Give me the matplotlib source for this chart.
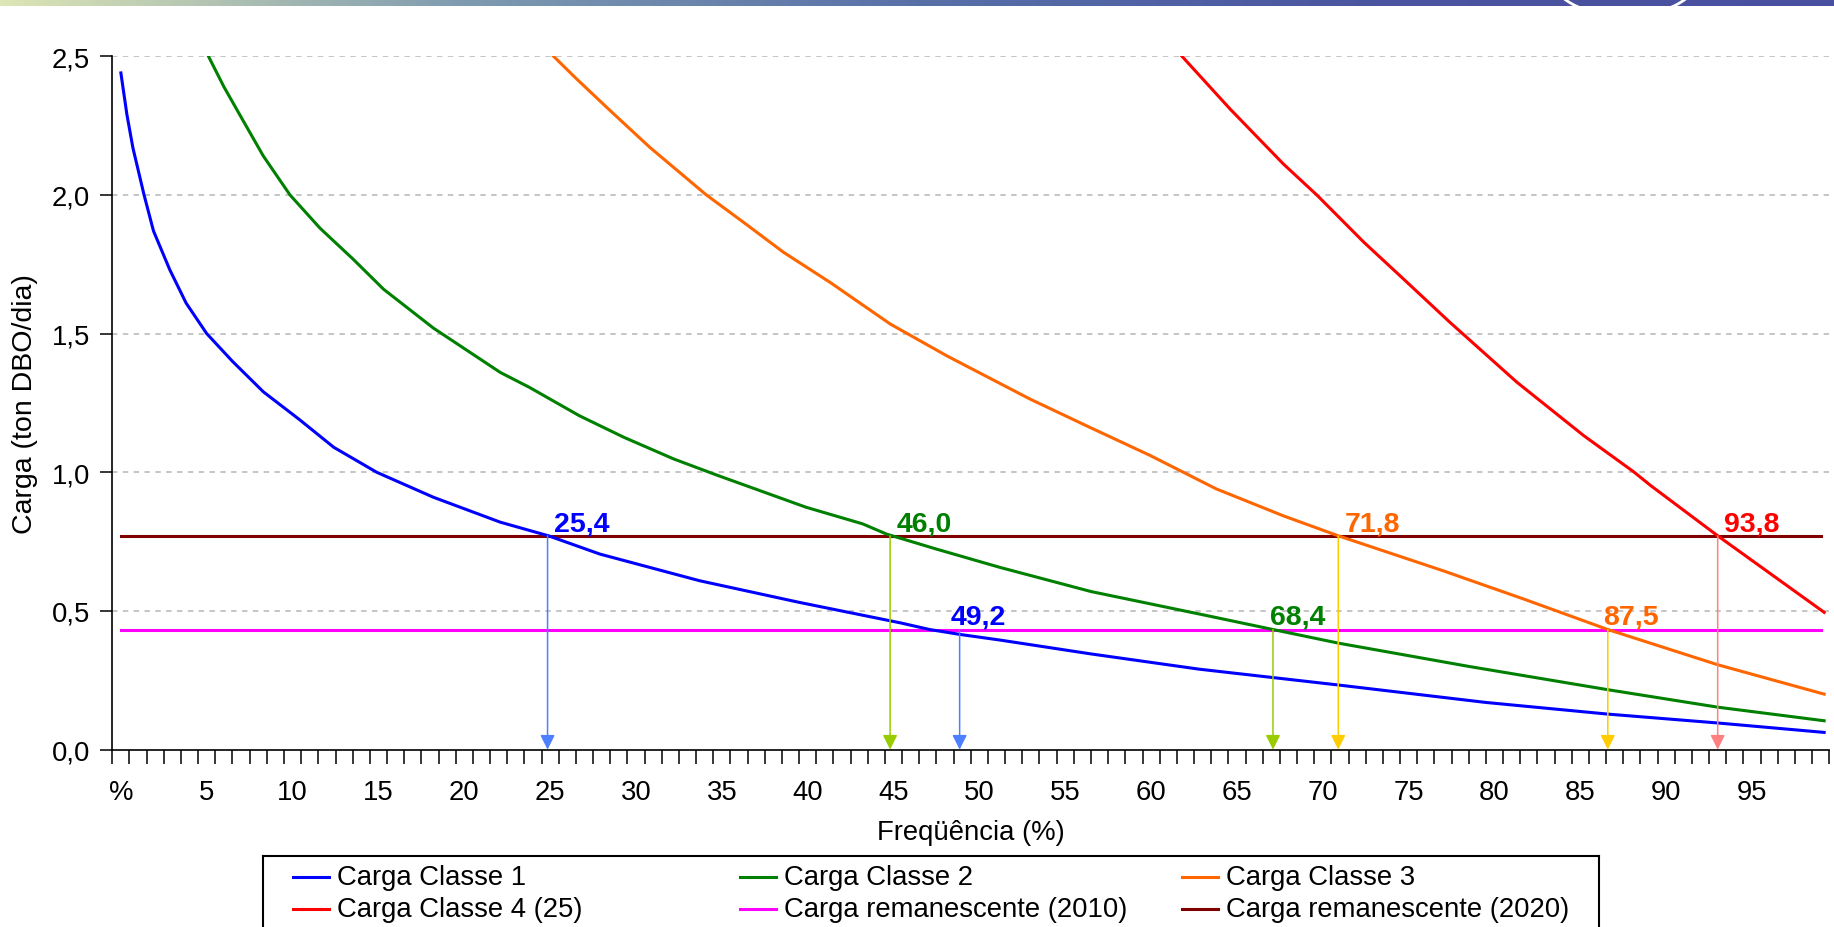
import numpy as np
import matplotlib.pyplot as plt
from matplotlib.patches import Ellipse

plt.rcParams['font.family'] = ['Liberation Sans', 'DejaVu Sans']

# curves: x = frequency position, y = load (ton DBO/dia)
x_c1 = [0.5, 0.85, 1.2, 1.85, 2.4, 3.35, 4.3, 5.5, 7.0, 8.8, 10.9, 12.9, 15.4, 18.7, 22.6,
        25.4, 28.4, 34.2, 40.0, 45.9, 47.6, 49.4, 51.7, 57.0, 63.3, 71.4, 80.0, 87.1, 93.5, 99.7]
y_c1 = [2.44, 2.29, 2.17, 2.0, 1.87, 1.73, 1.61, 1.5, 1.40, 1.29, 1.19, 1.09, 1.0, 0.91, 0.82,
        0.771, 0.705, 0.609, 0.531, 0.457, 0.433, 0.415, 0.395, 0.345, 0.29, 0.233, 0.17, 0.128, 0.096, 0.062]

x_c2 = [5.6, 6.5, 7.6, 8.8, 10.35, 12.1, 14.0, 15.8, 18.7, 22.6, 24.3, 27.2, 29.8, 32.7, 35.2,
        40.4, 43.7, 45.1, 48.0, 51.7, 57.0, 63.3, 67.6, 71.4, 79.0, 87.1, 93.5, 99.7]
y_c2 = [2.5, 2.39, 2.27, 2.14, 2.0, 1.88, 1.77, 1.66, 1.52, 1.36, 1.306, 1.204, 1.126, 1.048, 0.99,
        0.874, 0.814, 0.777, 0.723, 0.657, 0.57, 0.489, 0.433, 0.384, 0.30, 0.216, 0.153, 0.104]

x_c3 = [25.7, 27.05, 29.0, 31.3, 34.6, 36.75, 39.1, 41.8, 45.3, 48.6, 53.45, 57.0,
        60.4, 64.3, 68.2, 71.4, 77.5, 82.2, 87.1, 93.5, 99.7]
y_c3 = [2.5, 2.418, 2.304, 2.172, 2.0, 1.902, 1.793, 1.685, 1.535, 1.42, 1.264, 1.16,
        1.062, 0.94, 0.843, 0.771, 0.645, 0.543, 0.433, 0.306, 0.2]

x_c4 = [62.3, 65.1, 68.2, 70.15, 72.9, 75.2, 77.9, 81.8, 85.7, 88.6, 89.6, 93.5, 99.7]
y_c4 = [2.5, 2.31, 2.112, 2.0, 1.829, 1.697, 1.541, 1.325, 1.132, 1.002, 0.952, 0.771, 0.495]

rem_2010 = 0.433
rem_2020 = 0.771
line_x = [0.5, 99.5]

series_names = ['Carga Classe 1', 'Carga Classe 2', 'Carga Classe 3',
                'Carga Classe 4 (25)', 'Carga remanescente (2010)', 'Carga remanescente (2020)']
series_colors = ['#0000ff', '#008000', '#ff6600', '#ff0000', '#ff00ff', '#800000']

# drop arrows (position on axis, level they start from) and their labels
arrow_x = [25.35, 45.3, 49.35, 67.6, 71.4, 87.1, 93.5]
arrow_y0 = [rem_2020, rem_2020, rem_2010, rem_2010, rem_2020, rem_2010, rem_2020]
arrow_colors = ['#4d7fff', '#99cc00', '#4d7fff', '#99cc00', '#ffcc00', '#ffcc00', '#ff8080']
label_text = ['25,4', '46,0', '49,2', '68,4', '71,8', '87,5', '93,8']
label_x = [25.75, 45.7, 48.8, 67.45, 71.8, 86.85, 93.85]
label_colors = ['#0000ff', '#008000', '#0000ff', '#008000', '#ff6600', '#ff6600', '#ff0000']

xtick_pos = [k + 0.5 for k in range(0, 100, 5)]
xtick_lab = ['%'] + [str(k) for k in range(5, 100, 5)]
ytick_pos = [0, 0.5, 1.0, 1.5, 2.0, 2.5]
ytick_lab = ['0,0', '0,5', '1,0', '1,5', '2,0', '2,5']

FS = 19.8
W, H = 1834, 928
fig = plt.figure(figsize=(W / 100, H / 100), dpi=100)

# slide header strip
band = fig.add_axes([0, 1 - 7 / H, 1, 7 / H])
cols = np.array([[221, 230, 181], [127, 155, 176], [88, 112, 168], [74, 85, 160], [74, 80, 160]]) / 255
pos = np.linspace(0, 1, len(cols))
t = np.linspace(0, 1, 600)
grad = np.stack([np.interp(t, pos, cols[:, i]) for i in range(3)], axis=-1)[None, :, :]
band.imshow(grad, aspect='auto', extent=[0, W, 0, 7])
band.add_patch(Ellipse((1625, 30), 148, 80, fill=False, ec='white', lw=2))
band.set_xlim(0, W)
band.set_ylim(0, 7)
band.axis('off')

ax = fig.add_axes([112.3 / W, 1 - 750.6 / H, 1717 / W, 693.3 / H])

for y in ytick_pos[1:]:
    ax.axhline(y, color='#c0c0c0', lw=1.3, ls=(0, (3, 3)), zorder=0)

curves = [(x_c1, y_c1), (x_c2, y_c2), (x_c3, y_c3), (x_c4, y_c4)]
for (xs, ys), c in zip(curves, series_colors[:4]):
    ax.plot(xs, ys, color=c, lw=2.2, zorder=3)
ax.plot(line_x, [rem_2010, rem_2010], color=series_colors[4], lw=2.2, zorder=2)
ax.plot(line_x, [rem_2020, rem_2020], color=series_colors[5], lw=2.2, zorder=2)

for xa, y0, c in zip(arrow_x, arrow_y0, arrow_colors):
    ax.annotate('', xy=(xa, 0), xytext=(xa, y0),
                arrowprops=dict(arrowstyle='-|>', color=c, lw=1.1, mutation_scale=22,
                                shrinkA=0, shrinkB=0), zorder=4)
for s, xl, y0, c in zip(label_text, label_x, arrow_y0, label_colors):
    ax.text(xl, y0 + 0.02, s, color=c, fontsize=20.5, fontweight='bold', va='baseline', zorder=5)

ax.set_xlim(0, 100)
ax.set_ylim(0, 2.5)
ax.spines['top'].set_visible(False)
ax.spines['right'].set_visible(False)
ax.spines['left'].set_linewidth(1.2)
ax.spines['bottom'].set_linewidth(1.2)
ax.set_xticks(range(0, 101))
ax.set_xticklabels([])
ax.set_xticks(xtick_pos, minor=True)
ax.set_xticklabels(xtick_lab, minor=True, fontsize=FS)
ax.tick_params(axis='x', which='major', direction='out', length=10, width=1.1)
ax.tick_params(axis='x', which='minor', length=0, pad=21)
ax.set_yticks(ytick_pos)
ax.set_yticklabels(ytick_lab, fontsize=FS)
ax.tick_params(axis='y', direction='out', length=9, width=1.1, pad=7)
ax.set_xlabel('Freqüência (%)', fontsize=FS, labelpad=10)
ax.set_ylabel('Carga (ton DBO/dia)', fontsize=20.5, labelpad=10)

# legend box in the Excel style (equal columns)
lx0, lx1, ltop = 263, 1599, 857
lax = fig.add_axes([lx0 / W, 0, (lx1 - lx0) / W, (H - ltop) / H])
lax.set_xlim(lx0, lx1)
lax.set_ylim(0, H - ltop)
lax.set_xticks([])
lax.set_yticks([])
for side in ['left', 'right', 'top']:
    lax.spines[side].set_linewidth(1.5)
lax.spines['bottom'].set_visible(False)
col_x = [292.7, 740, 1182]
row_y = [H - 878, H - 910]
order = [(0, 0), (0, 1), (0, 2), (1, 0), (1, 1), (1, 2)]
for (r, cidx), name, c in zip(order, series_names, series_colors):
    lax.plot([col_x[cidx], col_x[cidx] + 36], [row_y[r], row_y[r]], color=c, lw=2.2)
    lax.text(col_x[cidx] + 44, row_y[r], name, fontsize=FS, va='center')

fig.savefig('out.png', dpi=100)
